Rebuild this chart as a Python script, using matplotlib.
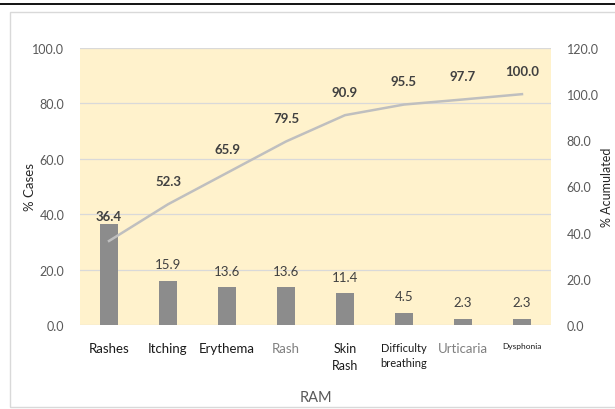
import numpy as np
import matplotlib
matplotlib.use('Agg')
import matplotlib.pyplot as plt
from matplotlib.lines import Line2D
from matplotlib.patches import Rectangle

plt.rcParams['font.family'] = ['Lato', 'DejaVu Sans']

# Données
categories = ['Rashes', 'Itching', 'Erythema', 'Rash', 'Skin\nRash',
              'Difficulty\nbreathing', 'Urticaria', 'Dysphonia']
cases = [36.4, 15.9, 13.6, 13.6, 11.4, 4.5, 2.3, 2.3]
cumulated = [36.4, 52.3, 65.9, 79.5, 90.9, 95.5, 97.7, 100.0]
left_ticks = [0, 20, 40, 60, 80, 100]
right_ticks = [0, 20, 40, 60, 80, 100, 120]

# styles des étiquettes de l'axe x
label_colors = ['#1a1a1a', '#1a1a1a', '#1a1a1a', '#808080', '#1a1a1a',
                '#1a1a1a', '#808080', '#1a1a1a']
label_sizes = [9.5, 9.5, 9.5, 9.5, 9, 8, 9.5, 6]

fig = plt.figure(figsize=(6.15, 4.10), dpi=100)
ax = fig.add_axes([0.1293, 0.2049, 0.7674, 0.6756])
ax2 = ax.twinx()

x = np.arange(len(categories))
ax.set_facecolor('#FFF2CC')
ax.bar(x, cases, width=0.31, color='#8C8C8C', zorder=3)
ax.set_xlim(-0.5, len(categories) - 0.5)
ax.set_ylim(0, 100)
ax.set_yticks(left_ticks)
ax.set_yticklabels(['%.1f' % v for v in left_ticks])
ax.yaxis.grid(True, color='#D9D9D9', linewidth=0.9, zorder=0)
ax.set_axisbelow(True)

ax2.plot(x, cumulated, color='#BFBFBF', linewidth=1.8, zorder=4)
ax2.set_ylim(0, 120)
ax2.set_yticks(right_ticks)
ax2.set_yticklabels(['%.1f' % v for v in right_ticks])

for a in (ax, ax2):
    for s in a.spines.values():
        s.set_visible(False)
    a.tick_params(axis='y', length=0, labelsize=9, labelcolor='#595959', pad=11)
ax.tick_params(axis='x', length=0, pad=12)
ax.set_xticks(x)
ax.set_xticklabels(categories, va='top')
for lab, c, s in zip(ax.get_xticklabels(), label_colors, label_sizes):
    lab.set_color(c)
    lab.set_fontsize(s)
    lab.set_linespacing(1.5)

# Étiquettes des barres (la première est masquée par celle du cumul)
for i, v in enumerate(cases):
    if i == 0:
        continue
    ax.annotate('%.1f' % v, (x[i], v), xytext=(0, 12), textcoords='offset points',
                ha='center', va='center', fontsize=9.5, color='#404040')

# Étiquettes du cumul
for i, v in enumerate(cumulated):
    ax2.annotate('%.1f' % v, (x[i], v), xytext=(0, 17 if i else 18),
                 textcoords='offset points', ha='center', va='center',
                 fontsize=9.5, fontweight='bold', color='#404040', zorder=5)

ax.set_ylabel('% Cases', fontsize=9.5, color='#262626')
ax.yaxis.set_label_coords(-43.5 / 472, 0.5)
ax2.set_ylabel('% Acumulated', fontsize=9, color='#262626', rotation=90)
ax2.yaxis.set_label_coords(1 + 50 / 472, 0.5)
ax.set_xlabel('RAM', fontsize=10.5, color='#595959', labelpad=14)

# cadre
fig.add_artist(Rectangle((10 / 615, 0.005), 1.0, 395 / 410, transform=fig.transFigure,
                         fill=False, edgecolor='#D9D9D9', linewidth=1))
fig.add_artist(Line2D([0, 1], [1 - 5 / 410] * 2, transform=fig.transFigure,
                      color='black', linewidth=1.3))

fig.savefig('out.png', dpi=100)
